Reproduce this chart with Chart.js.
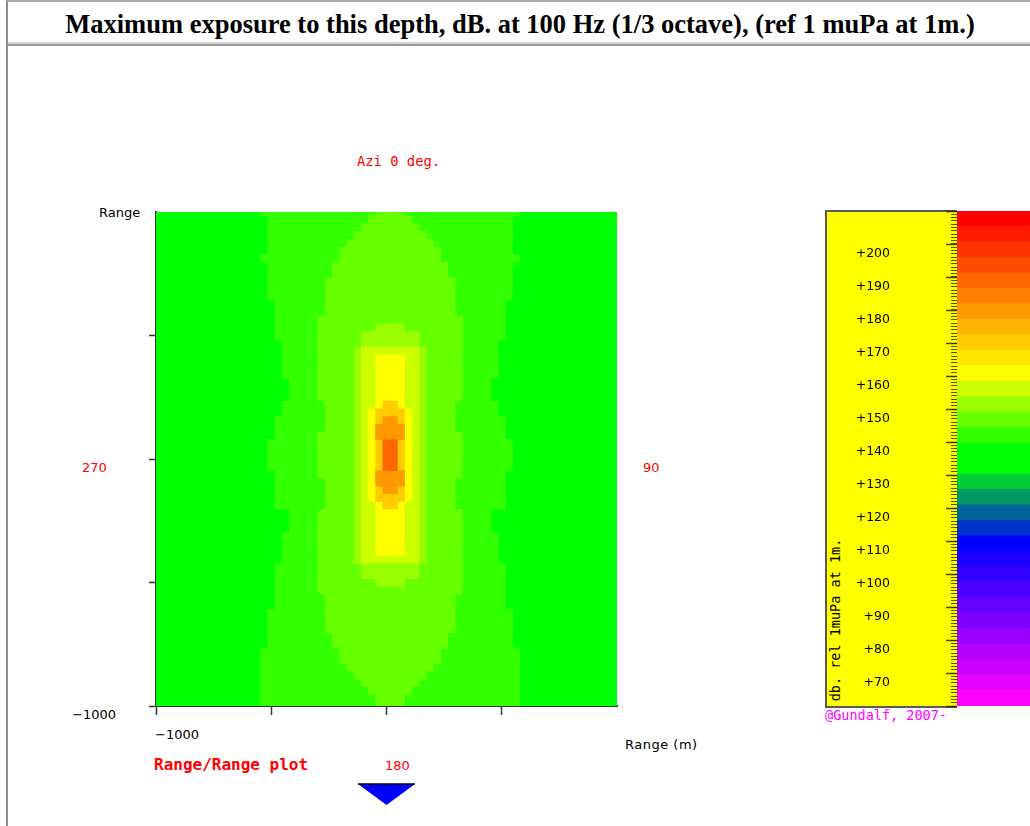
<!DOCTYPE html>
<html>
<head>
<meta charset="utf-8">
<title>Maximum exposure to this depth</title>
<script src="https://cdn.jsdelivr.net/npm/chart.js@4.4.1/dist/chart.umd.min.js"></script>
<style>
  html, body { margin: 0; padding: 0; background: #fff; overflow: hidden; width: 1030px; height: 826px; }
  .frame { position: absolute; left: 6px; top: 0; width: 1100px; height: 900px; border-left: 2px solid #8c8c8c; border-top: 2px solid #a8a8a8; }
  .head { position: absolute; left: 8px; top: 2px; width: 1100px; height: 40px; border-bottom: 2px solid #d6d6d6; }
  .rule { position: absolute; left: 8px; top: 44px; width: 1100px; border-top: 2px solid #9a9a9a; }
  .title { position: absolute; left: 0; top: 24px; width: 1040px; text-align: center; transform: translateY(-50%);
           font: bold 26.5px "Liberation Serif", "Times New Roman", serif; line-height: 1; color: #000; white-space: nowrap; }
  .lbl { position: absolute; white-space: nowrap; line-height: 1; transform: translateY(-50%); font-family: "DejaVu Sans", sans-serif; font-size: 13px; }
  .mono { font-family: "DejaVu Sans Mono", monospace; }
  .red { color: #ff0000; }
  .scalebox { position: absolute; left: 825px; top: 210px; width: 130px; height: 494px; background: #ffff00;
              border: 2px solid #5a5a5a; border-right: none; }
  .vert { position: absolute; left: 836px; top: 620px; transform: translate(-50%, -50%) rotate(-90deg);
          font: 13.5px "DejaVu Sans Mono", monospace; color: #000; white-space: nowrap; line-height: 1; }
  canvas { position: absolute; }
</style>
</head>
<body>
<div class="frame"></div>
<div class="head"></div>
<div class="rule"></div>
<div class="title">Maximum exposure to this depth, dB. at 100 Hz (1/3 octave), (ref 1 muPa at 1m.)</div>

<div class="lbl mono red" style="left:357px; top:162px; font-size:13.8px;">Azi 0 deg.</div>
<div class="lbl" style="left:99px; top:212px;">Range</div>
<div class="lbl red" style="left:82px; top:467px;">270</div>
<div class="lbl red" style="left:643px; top:467px;">90</div>
<div class="lbl" style="left:72px; top:714px;">&minus;1000</div>
<div class="lbl" style="left:155px; top:734px;">&minus;1000</div>
<div class="lbl" style="left:625px; top:744px; letter-spacing:0.5px;">Range (m)</div>
<div class="lbl mono red" style="left:154px; top:765px; font-size:16px; font-weight:bold;">Range/Range plot</div>
<div class="lbl red" style="left:385px; top:765px;">180</div>
<svg style="position:absolute; left:358px; top:783px;" width="58" height="24">
  <polygon points="0,1 57,1 28.5,22" fill="#0000ff"/>
  <line x1="0" y1="1" x2="57" y2="1" stroke="#000" stroke-width="1.5"/>
</svg>

<div class="scalebox"></div>
<div class="vert">db. rel 1muPa at 1m.</div>
<div class="lbl mono" style="left:825px; top:716px; color:#ff00ff; font-size:13.5px;">@Gundalf, 2007-</div>

<canvas id="rangeChart" width="1030" height="826" style="left:0; top:0;"></canvas>
<canvas id="scaleChart" width="300" height="520" style="left:820px; top:200px;"></canvas>

<script>
// grid of the range/range plot, metres
const cellSize = 31.25;
const sourceX = 15.625;
const rowY = [];
for (let i = 0; i <= 64; i++) rowY.push(1000 - i * cellSize);

// contour levels, outer to inner
const levelNames = ['145 dB', '150 dB', '155 dB', '160 dB', '165 dB', '170 dB', '175 dB', '180 dB'];
const levelColors = ['#33ff00', '#66ff00', '#99ff00', '#ccff00', '#ffff00', '#ffcc00', '#ff9900', '#ff6600'];
const baseColor = '#00ff00';

// half-width of each level, in cells, per row from top to bottom
const lvl145 = [
  18,17,17,17,17,17,18,17,17,17,
  17,17,16,16,16,16,16,15,15,15,
  15,15,14,14,14,15,15,16,16,16,
  17,17,17,17,16,16,16,16,16,14,
  14,14,15,15,15,15,16,16,16,16,
  16,16,17,17,17,17,17,18,18,18,
  18,18,18,18,18];
const lvl150 = [
  2,3,4,5,6,7,7,8,8,9,
  9,9,9,9,10,10,10,10,10,10,
  10,10,10,10,10,9,9,9,9,10,
  10,10,10,10,10,9,9,9,9,10,
  10,10,10,10,10,10,10,10,10,10,
  9,9,9,9,9,8,8,7,7,6,
  5,4,3,2,2];
const lvl155 = [
  0,0,0,0,0,0,0,0,0,0,
  0,0,0,0,0,2,4,4,5,5,
  5,5,5,5,5,5,5,5,5,5,
  5,5,5,5,5,5,5,5,5,5,
  5,5,5,5,5,5,4,4,2,0,
  0,0,0,0,0,0,0,0,0,0,
  0,0,0,0,0];
const lvl160 = [
  0,0,0,0,0,0,0,0,0,0,
  0,0,0,0,0,0,0,0,4,4,
  4,4,4,4,4,4,4,4,4,4,
  4,4,4,4,4,4,4,4,4,4,
  4,4,4,4,4,4,0,0,0,0,
  0,0,0,0,0,0,0,0,0,0,
  0,0,0,0,0];
const lvl165 = [
  0,0,0,0,0,0,0,0,0,0,
  0,0,0,0,0,0,0,0,0,2,
  2,2,2,2,2,2,3,3,3,3,
  3,3,3,3,3,3,3,3,2,2,
  2,2,2,2,2,0,0,0,0,0,
  0,0,0,0,0,0,0,0,0,0,
  0,0,0,0,0];
const lvl170 = [
  0,0,0,0,0,0,0,0,0,0,
  0,0,0,0,0,0,0,0,0,0,
  0,0,0,0,0,1,2,2,2,2,
  2,2,2,2,2,2,2,2,1,0,
  0,0,0,0,0,0,0,0,0,0,
  0,0,0,0,0,0,0,0,0,0,
  0,0,0,0,0];
const lvl175 = [
  0,0,0,0,0,0,0,0,0,0,
  0,0,0,0,0,0,0,0,0,0,
  0,0,0,0,0,0,0,1,2,2,
  1,1,1,1,2,2,1,0,0,0,
  0,0,0,0,0,0,0,0,0,0,
  0,0,0,0,0,0,0,0,0,0,
  0,0,0,0,0];
const lvl180 = [
  0,0,0,0,0,0,0,0,0,0,
  0,0,0,0,0,0,0,0,0,0,
  0,0,0,0,0,0,0,0,0,0,
  1,1,1,1,0,0,0,0,0,0,
  0,0,0,0,0,0,0,0,0,0,
  0,0,0,0,0,0,0,0,0,0,
  0,0,0,0,0];
const levels = [lvl145, lvl150, lvl155, lvl160, lvl165, lvl170, lvl175, lvl180];

// colour scale, bottom to top
const bandColors = [
  '#ff00ff', '#e600ff', '#cc00ff', '#b300ff', '#9900ff', '#8000ff', '#6600ff', '#4d00ff',
  '#3300ff', '#1a00ff', '#0000ff', '#0033cc', '#006699', '#009966', '#00cc33', '#00ff00',
  '#00ff00', '#33ff00', '#66ff00', '#99ff00', '#ccff00', '#ffff00', '#ffe600', '#ffcc00',
  '#ffb300', '#ff9900', '#ff8000', '#ff6600', '#ff4d00', '#ff3300', '#ff1a00', '#ff0000'];
const dbMin = 60, dbMax = 210;
const dbLabels = [70, 80, 90, 100, 110, 120, 130, 140, 150, 160, 170, 180, 190, 200];

const plotBackground = {
    id: 'plotBackground',
    beforeDatasetsDraw(chart) {
        const a = chart.chartArea, ctx = chart.ctx;
        ctx.save();
        ctx.fillStyle = baseColor;
        ctx.fillRect(a.left, a.top, a.right - a.left, a.bottom - a.top);
        ctx.restore();
    }
};

const datasets = levels.map((hw, k) => {
    const points = [];
    hw.forEach((h, i) => {
        if (h > 0) points.push({ y: rowY[i], x: [sourceX - h * cellSize, sourceX + h * cellSize] });
    });
    return {
        label: levelNames[k],
        data: points,
        backgroundColor: levelColors[k],
        borderWidth: 0,
        grouped: false,
        categoryPercentage: 1,
        barPercentage: 1,
        order: levels.length - k
    };
});

new Chart(document.getElementById('rangeChart'), {
    type: 'bar',
    data: { datasets: datasets },
    options: {
        indexAxis: 'y',
        responsive: false,
        animation: false,
        layout: { padding: { left: 146, right: 413, top: 212, bottom: 110 } },
        plugins: { legend: { display: false }, tooltip: { enabled: false } },
        scales: {
            x: {
                type: 'linear', min: -1000, max: 1000,
                ticks: { display: false, stepSize: 500 },
                grid: {
                    drawOnChartArea: false, tickLength: 9, tickWidth: 1.5,
                    tickColor: ctx => ctx.tick.value >= 1000 ? 'rgba(0,0,0,0)' : '#333'
                },
                border: { color: '#333', width: 2 },
                afterFit: s => { s.height = 10; }
            },
            y: {
                type: 'linear', min: -1000, max: 1000, offset: false,
                ticks: { display: false, stepSize: 500 },
                grid: {
                    offset: false, drawOnChartArea: false, tickLength: 7, tickWidth: 1.5,
                    tickColor: ctx => ctx.tick.value >= 1000 ? 'rgba(0,0,0,0)' : '#333'
                },
                border: { color: '#333', width: 2 },
                afterFit: s => { s.width = 10; }
            }
        }
    },
    plugins: [plotBackground]
});

// long ruler marks every 10 dB
const longTicks = {
    id: 'longTicks',
    afterDraw(chart) {
        const s = chart.scales.y, ctx = chart.ctx;
        ctx.save();
        ctx.strokeStyle = 'rgba(40,40,0,0.85)';
        ctx.lineWidth = 1.5;
        for (let v = dbMin; v <= dbMax; v += 10) {
            const y = Math.round(s.getPixelForValue(v)) + 0.5;
            ctx.beginPath();
            ctx.moveTo(s.right - 11, y);
            ctx.lineTo(s.right, y);
            ctx.stroke();
        }
        ctx.restore();
    }
};

new Chart(document.getElementById('scaleChart'), {
    type: 'bar',
    data: {
        labels: ['dB'],
        datasets: bandColors.map(c => ({
            data: [1], backgroundColor: c, yAxisID: 'band', borderWidth: 0,
            categoryPercentage: 1, barPercentage: 1
        }))
    },
    options: {
        responsive: false,
        animation: false,
        layout: { padding: { left: 0, right: 0, top: 11, bottom: 14 } },
        plugins: { legend: { display: false }, tooltip: { enabled: false } },
        scales: {
            x: { display: false, stacked: true },
            band: { axis: 'y', display: false, stacked: true, min: 0, max: bandColors.length },
            y: {
                position: 'left', min: dbMin, max: dbMax,
                ticks: {
                    stepSize: 1, autoSkip: false, padding: 61, labelOffset: 10,
                    color: '#000', font: { family: 'DejaVu Sans', size: 12.5 },
                    callback: v => dbLabels.includes(v) ? '+' + v : ''
                },
                grid: { drawOnChartArea: false, tickLength: 6, tickWidth: 1, tickColor: 'rgba(40,40,0,0.8)' },
                border: { display: false },
                afterFit: s => { s.width = 137; s.paddingTop = 0; s.paddingBottom = 0; }
            }
        }
    },
    plugins: [longTicks]
});
</script>
</body>
</html>
